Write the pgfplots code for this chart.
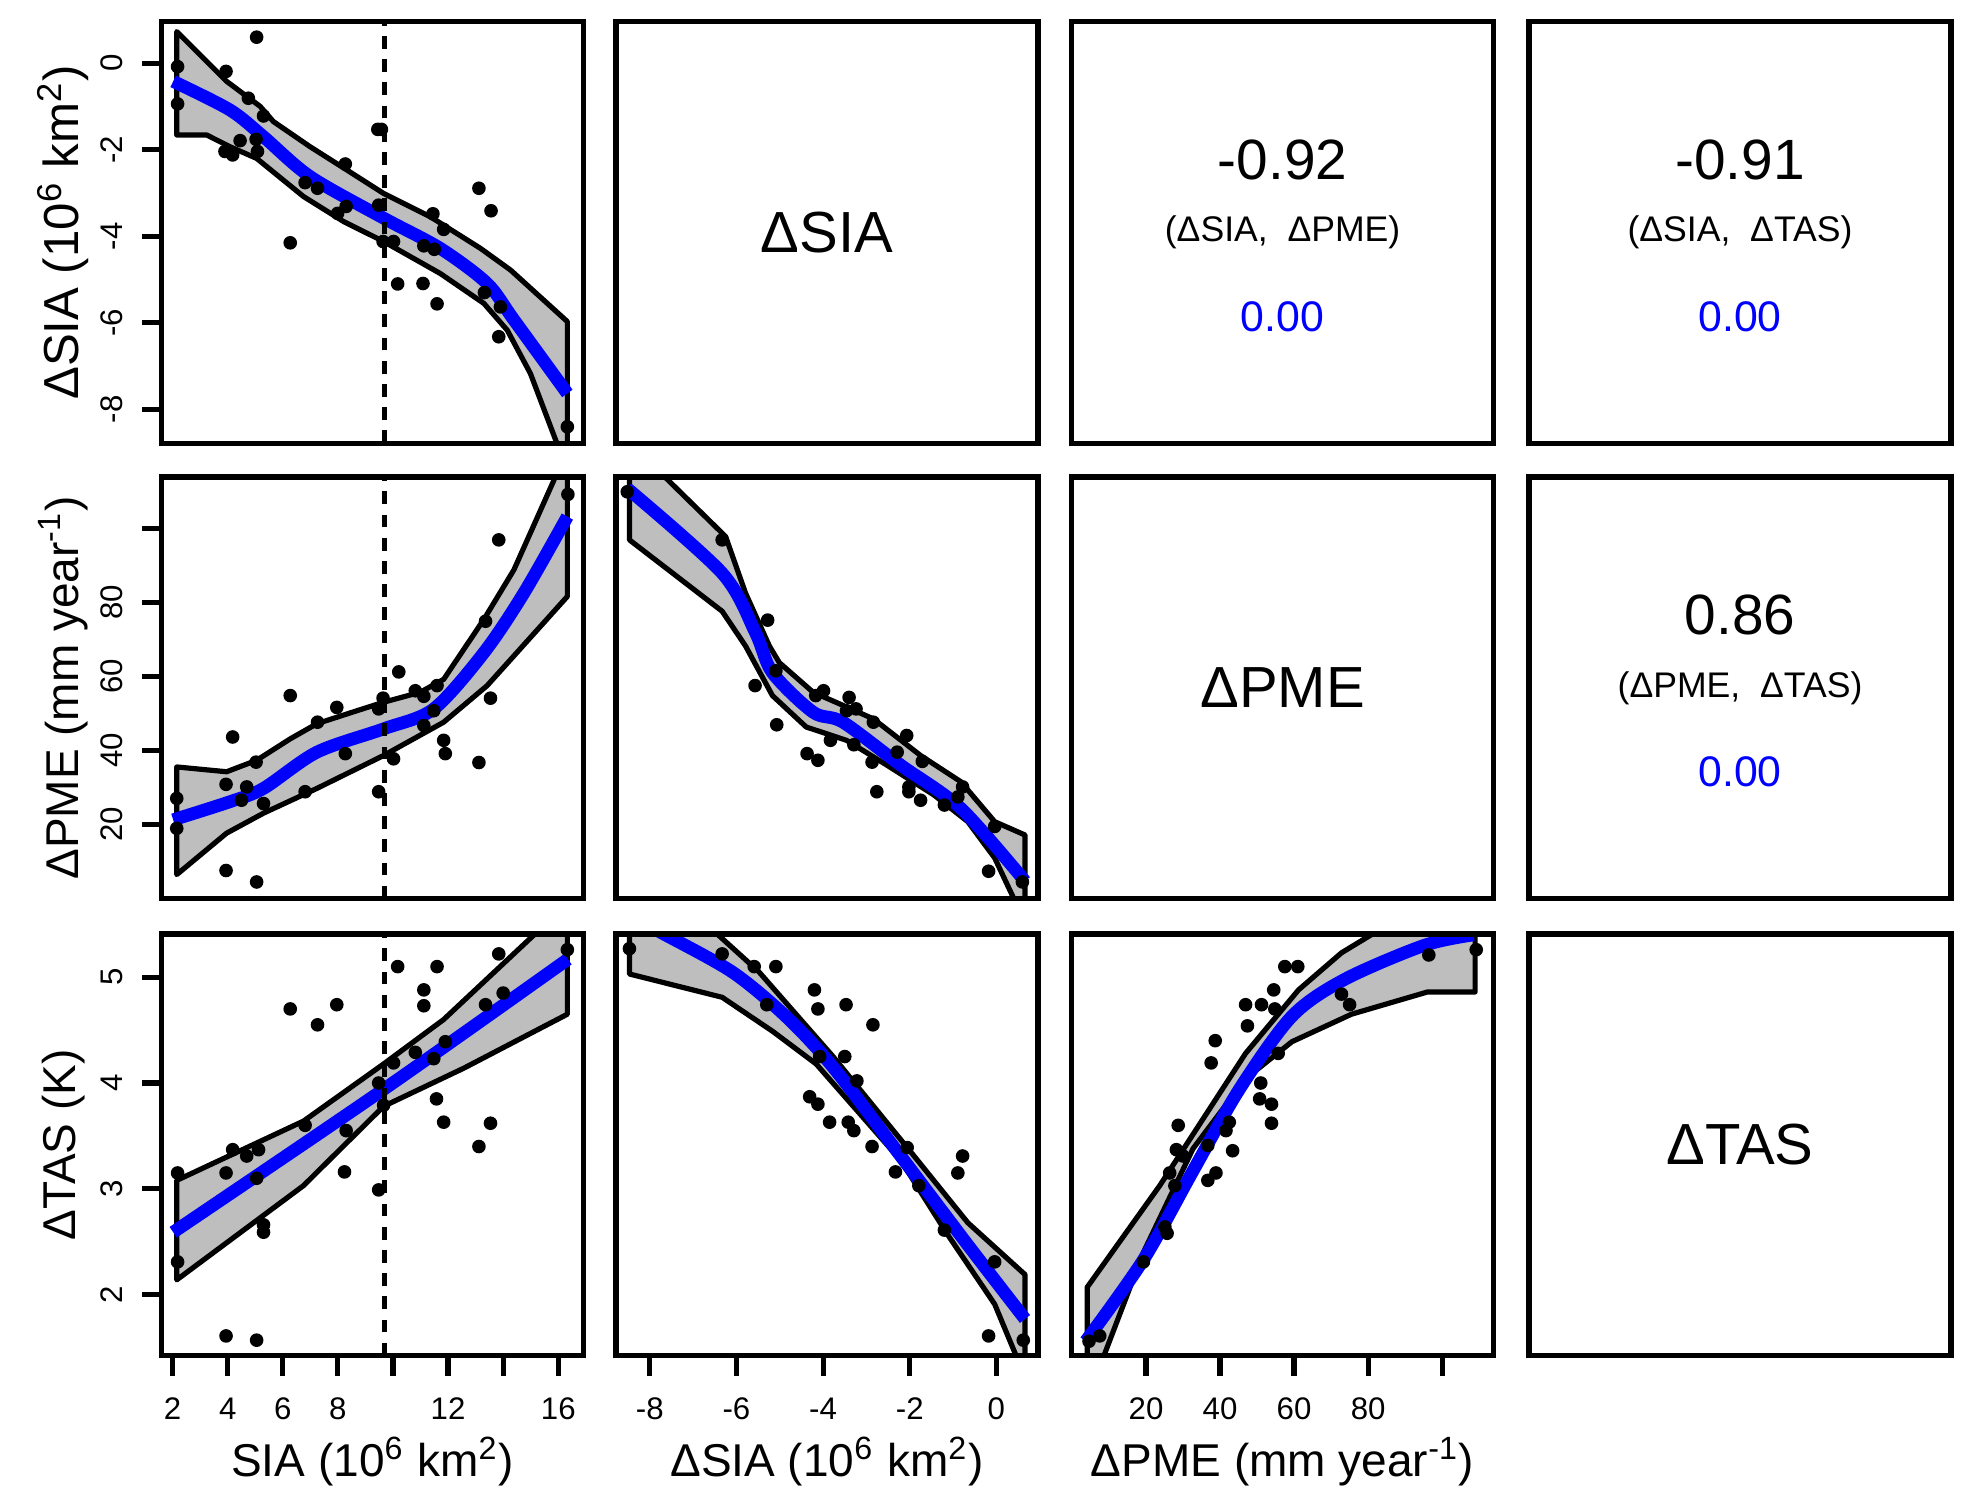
\documentclass[border=0pt]{standalone}
\usepackage{fontspec}
\setmainfont{Liberation Sans}
\usepackage{pgfplots}
\pgfplotsset{compat=1.18}
\definecolor{band}{RGB}{190,190,190}
\definecolor{fitblue}{RGB}{0,0,255}
\newcommand\tickf{\fontsize{7.8bp}{9bp}\selectfont}
\newcommand\labf{\fontsize{11.5bp}{13bp}\selectfont}
\newcommand\diagf{\fontsize{14.5bp}{17bp}\selectfont}
\newcommand\corf{\fontsize{14.2bp}{17bp}\selectfont}
\newcommand\pairf{\fontsize{8.9bp}{10bp}\selectfont}
\newcommand\pvf{\fontsize{10.7bp}{12bp}\selectfont}

\pgfplotsset{
  panel/.style={scale only axis, width=105.5bp, height=105.4bp, anchor=north west,
    axis line style={line width=1.3bp}, axis on top,
    xtick=\empty, ytick=\empty, tick pos=left, tick align=inside, major tick length=-5bp,
    major tick style={line width=1.3bp, black},
    ticklabel style={font=\tickf},
    xticklabel style={anchor=center, yshift=-13.25bp},
    yticklabel style={xshift=-12.45bp, rotate=90, anchor=center},
    xlabel style={font=\labf, at={(rel axis cs:0.5,0)}, anchor=center, yshift=-26.5bp},
    ylabel style={font=\labf, at={(rel axis cs:0,0.5)}, anchor=center, yshift=24.6bp},
  },
  pts/.style={only marks, mark=*, mark size=1.5bp, black},
  fit/.style={fitblue, line width=3.2bp, no marks, smooth, tension=0.5, line join=round},
  ci/.style={fill=band, draw=black, line width=1.3bp, no marks, line join=round},
  vline/.style={black, line width=1.2bp, dash pattern=on 3.2bp off 2.6bp, no marks},
  xsia/.style={xmin=1.6, xmax=16.92},
  xdsia/.style={xmin=-8.78, xmax=0.96},
  xdpme/.style={xmin=-0.1, xmax=113.9},
  ydsia/.style={ymin=-8.78, ymax=0.96},
  ydpme/.style={ymin=-0.1, ymax=113.9},
  ydtas/.style={ymin=1.424, ymax=5.408},
  blank/.style={xmin=0, xmax=1, ymin=0, ymax=1},
}

\begin{document}
\begin{tikzpicture}
\useasboundingbox (0,0) rectangle (492.5bp,-374.5bp);

% ---------------- row 1 ----------------
\begin{axis}[panel, xsia, ydsia, at={(40.4bp,-5.4bp)},
  ytick={0,-2,-4,-6,-8}, yticklabels={0,-2,-4,-6,-8},
  ylabel={\fontsize{12.3bp}{14bp}\selectfont ΔSIA (10\textsuperscript{6} km\textsuperscript{2})}]
\addplot[ci] coordinates {(2.15,0.73) (3.96,-0.42) (5.18,-1.00) (5.66,-1.35) (6.99,-1.93) (8.33,-2.47) (9.66,-3.01) (11.36,-3.55) (13.18,-4.28) (14.27,-4.78) (16.33,-5.97) (16.33,-9.4) (16.2,-9.2) (14.99,-7.17) (14.15,-6.17) (13.30,-5.55) (11.72,-4.86) (9.66,-4.12) (8.21,-3.66) (6.75,-3.08) (5.05,-2.20) (4.08,-1.93) (3.24,-1.66) (2.15,-1.66)} -- cycle;
\addplot[pts] coordinates {(2.18,-0.08) (2.18,-0.94) (5.05,0.60) (3.94,-0.19) (4.75,-0.81) (5.30,-1.22) (4.45,-1.79) (5.03,-1.76) (3.90,-2.04) (4.18,-2.12) (5.08,-2.04) (9.45,-1.53) (9.58,-1.53) (8.27,-2.33) (6.81,-2.76) (7.26,-2.89) (7.99,-3.47) (8.30,-3.31) (9.48,-3.28) (6.27,-4.15) (9.64,-4.12) (10.02,-4.12) (11.45,-3.48) (11.84,-3.84) (11.12,-4.22) (11.5,-4.3) (13.12,-2.89) (13.56,-3.41) (10.17,-5.10) (11.09,-5.09) (11.60,-5.56) (13.32,-5.30) (13.90,-5.63) (13.84,-6.32) (16.33,-8.40)};
\addplot[fit] coordinates {(2.02,-0.42) (4.08,-1.08) (5.30,-1.70) (6.99,-2.62) (9.66,-3.58) (11.72,-4.28) (13.42,-5.09) (14.39,-5.93) (16.33,-7.63)};
\addplot[vline] coordinates {(9.68,-8.78) (9.68,0.96)};
\end{axis}

\begin{axis}[panel, blank, at={(154.0bp,-5.4bp)}]
\node[font=\diagf] at (rel axis cs:0.5,0.5) {ΔSIA};
\end{axis}

\begin{axis}[panel, blank, at={(267.9bp,-5.4bp)}]
\node[font=\corf] at (rel axis cs:0.5,0.673) {-0.92};
\node[font=\pairf] at (rel axis cs:0.5,0.50) {(ΔSIA,\ \ ΔPME)};
\node[font=\pvf, text=fitblue] at (rel axis cs:0.5,0.30) {0.00};
\end{axis}

\begin{axis}[panel, blank, at={(382.25bp,-5.4bp)}]
\node[font=\corf] at (rel axis cs:0.5,0.673) {-0.91};
\node[font=\pairf] at (rel axis cs:0.5,0.50) {(ΔSIA,\ \ ΔTAS)};
\node[font=\pvf, text=fitblue] at (rel axis cs:0.5,0.30) {0.00};
\end{axis}

% ---------------- row 2 ----------------
\begin{axis}[panel, xsia, ydpme, at={(40.4bp,-119.25bp)},
  ytick={20,40,60,80,100}, yticklabels={20,40,60,80,{}},
  ylabel={ΔPME (mm year\textsuperscript{-1})}]
\addplot[ci] coordinates {(2.15,35.5) (3.96,34.2) (5.05,37.3) (6.27,43.1) (7.24,47.2) (8.69,50.7) (9.66,53.0) (10.99,55.7) (11.84,59.2) (13.30,75.4) (14.39,88.8) (15.84,113.0) (16.33,123.8) (16.33,81.6) (13.42,57.5) (11.84,47.6) (9.66,38.6) (7.24,29.7) (5.30,23.0) (3.96,17.6) (2.15,6.4)} -- cycle;
\addplot[pts] coordinates {(2.15,27.0) (2.15,18.9) (3.94,30.8) (4.18,43.6) (4.69,30.1) (5.03,36.8) (5.30,25.6) (3.94,7.5) (5.05,4.4) (4.5,26.5) (6.81,28.8) (6.27,54.8) (7.26,47.6) (7.96,51.6) (8.27,39.1) (9.48,28.8) (9.48,51.2) (9.64,54.1) (10.02,37.7) (10.21,61.2) (10.81,56.1) (11.12,54.6) (11.12,46.7) (11.60,57.5) (11.48,50.7) (11.84,42.7) (11.90,39.1) (13.12,36.7) (13.54,54.1) (13.36,74.9) (13.84,96.9) (16.35,109.2)};
\addplot[fit] coordinates {(2.02,21.2) (4.08,26.1) (5.30,29.7) (7.24,39.5) (9.66,45.8) (11.48,51.2) (13.30,66.4) (14.75,82.5) (16.33,103.2)};
\addplot[vline] coordinates {(9.68,-0.1) (9.68,113.9)};
\end{axis}

\begin{axis}[panel, xdsia, ydpme, at={(154.0bp,-119.25bp)}]
\addplot[ci] coordinates {(-8.47,123.3) (-6.25,97.8) (-5.79,82.5) (-5.24,68.2) (-5.01,63.7) (-4.23,55.7) (-3.61,52.5) (-2.84,48.5) (-1.75,38.6) (-0.82,31.5) (-0.04,20.7) (0.66,17.1) (0.66,-0.8) (0.43,-0.8) (-0.04,10.9) (-0.66,20.7) (-1.44,27.9) (-2.53,36.0) (-3.46,42.7) (-4.39,46.3) (-5.17,54.8) (-5.79,68.2) (-6.33,77.6) (-8.47,96.9)} -- cycle;
\addplot[pts] coordinates {(-8.52,109.9) (-6.33,96.9) (-5.28,75.2) (-5.57,57.5) (-5.09,61.5) (-5.07,46.9) (-4.17,54.8) (-3.99,56.1) (-3.40,54.3) (-3.46,50.7) (-3.24,51.2) (-2.84,47.6) (-3.83,42.7) (-4.37,39.1) (-4.12,37.3) (-3.29,41.5) (-2.87,36.8) (-2.76,28.8) (-2.29,39.5) (-2.07,44.0) (-1.71,37.0) (-2.02,30.1) (-2.02,28.8) (-1.75,26.5) (-1.20,25.2) (-0.78,30.1) (-0.89,27.4) (-0.04,19.4) (-0.18,7.3) (0.60,4.4)};
\addplot[fit] coordinates {(-8.52,110.8) (-6.33,87.9) (-5.56,71.8) (-5.17,61.0) (-4.23,50.3) (-3.54,47.6) (-2.21,36.0) (-0.82,24.3) (0.66,4.6)};
\end{axis}

\begin{axis}[panel, blank, at={(267.9bp,-119.25bp)}]
\node[font=\diagf] at (rel axis cs:0.5,0.5) {ΔPME};
\end{axis}

\begin{axis}[panel, blank, at={(382.25bp,-119.25bp)}]
\node[font=\corf] at (rel axis cs:0.5,0.673) {0.86};
\node[font=\pairf] at (rel axis cs:0.5,0.50) {(ΔPME,\ \ ΔTAS)};
\node[font=\pvf, text=fitblue] at (rel axis cs:0.5,0.30) {0.00};
\end{axis}

% ---------------- row 3 ----------------
\begin{axis}[panel, xsia, ydtas, at={(40.4bp,-233.5bp)},
  xtick={2,4,6,8,10,12,14,16}, xticklabels={2,4,6,8,{},12,{},16},
  ytick={2,3,4,5}, yticklabels={2,3,4,5},
  xlabel={SIA (10\textsuperscript{6} km\textsuperscript{2})},
  ylabel={ΔTAS (K)}]
\addplot[ci] coordinates {(2.15,3.08) (6.75,3.64) (9.66,4.18) (11.84,4.60) (15.12,5.40) (16.33,5.65) (16.33,4.65) (12.57,4.14) (9.66,3.78) (6.75,3.03) (2.15,2.14)} -- cycle;
\addplot[pts] coordinates {(2.18,3.15) (2.18,2.31) (3.94,3.15) (4.18,3.37) (4.69,3.31) (5.12,3.37) (5.05,3.10) (5.30,2.66) (5.30,2.59) (3.94,1.61) (5.05,1.57) (6.27,4.70) (7.26,4.55) (7.96,4.74) (6.81,3.60) (8.30,3.55) (8.24,3.16) (9.48,2.99) (9.48,4.00) (9.66,3.79) (10.02,4.19) (10.17,5.10) (10.81,4.29) (11.12,4.88) (11.12,4.73) (11.48,4.23) (11.60,5.10) (11.58,3.85) (11.84,3.63) (11.90,4.39) (13.12,3.40) (13.54,3.62) (13.36,4.74) (14.0,4.85) (13.84,5.22) (16.33,5.26)};
\addplot[fit] coordinates {(2.02,2.59) (9.66,3.94) (16.35,5.17)};
\addplot[vline] coordinates {(9.68,1.424) (9.68,5.408)};
\end{axis}

\begin{axis}[panel, xdsia, ydtas, at={(154.0bp,-233.5bp)},
  xtick={-8,-6,-4,-2,0}, xticklabels={-8,-6,-4,-2,0},
  xlabel={ΔSIA (10\textsuperscript{6} km\textsuperscript{2})}]
\addplot[ci] coordinates {(-8.47,6.15) (-6.45,5.41) (-5.48,5.05) (-3.77,4.25) (-1.90,3.31) (-0.66,2.68) (0.66,2.19) (0.66,1.30) (0.58,1.30) (-0.04,1.91) (-1.13,2.57) (-2.21,3.27) (-4.16,4.18) (-5.17,4.49) (-6.33,4.81) (-8.47,5.03)} -- cycle;
\addplot[pts] coordinates {(-8.47,5.27) (-6.33,5.22) (-5.59,5.10) (-5.09,5.10) (-4.20,4.88) (-4.12,4.70) (-3.47,4.74) (-2.85,4.55) (-3.50,4.25) (-4.08,4.25) (-4.31,3.87) (-4.12,3.80) (-3.85,3.63) (-3.42,3.63) (-3.29,3.55) (-2.87,3.40) (-2.33,3.16) (-1.79,3.03) (-0.78,3.31) (-0.89,3.15) (-1.20,2.61) (-0.04,2.31) (-0.18,1.61) (0.62,1.57) (-2.06,3.39) (-3.22,4.02) (-5.3,4.74)};
\addplot[fit] coordinates {(-8.47,5.58) (-7.73,5.42) (-6.10,5.05) (-4.86,4.63) (-3.77,4.15) (-2.21,3.31) (-0.66,2.47) (0.66,1.77)};
\end{axis}

\begin{axis}[panel, xdpme, ydtas, at={(267.9bp,-233.5bp)},
  xtick={20,40,60,80,100}, xticklabels={20,40,60,80,{}},
  xlabel={ΔPME (mm year\textsuperscript{-1})}]
\addplot[ci] coordinates {(4.1,2.07) (23.7,3.03) (46.9,4.28) (61.2,4.88) (72.8,5.23) (80.8,5.40) (108.9,5.75) (108.9,4.86) (96.0,4.86) (75.5,4.65) (59.4,4.39) (46.9,4.04) (32.7,3.38) (19.3,2.40) (8.6,1.42) (6.8,1.28) (4.1,1.28)} -- cycle;
\addplot[pts] coordinates {(4.6,1.56) (7.5,1.61) (19.3,2.31) (25.1,2.64) (25.7,2.58) (26.4,3.15) (28.7,3.60) (28.2,3.37) (30.0,3.31) (27.8,3.03) (36.7,3.08) (38.9,3.15) (36.7,3.41) (37.6,4.19) (38.7,4.40) (41.6,3.55) (42.5,3.63) (43.4,3.36) (46.9,4.74) (47.4,4.54) (51.2,4.74) (51.0,4.00) (50.7,3.85) (53.9,3.80) (53.9,3.62) (54.5,4.88) (54.8,4.70) (55.7,4.28) (57.5,5.10) (61.0,5.10) (72.8,4.84) (75.0,4.74) (96.4,5.21) (109.2,5.26)};
\addplot[fit] coordinates {(3.7,1.56) (19.3,2.33) (32.7,3.17) (45.2,3.94) (59.4,4.63) (73.7,4.98) (95.1,5.30) (108.5,5.40)};
\end{axis}

\begin{axis}[panel, blank, at={(382.25bp,-233.5bp)}]
\node[font=\diagf] at (rel axis cs:0.5,0.5) {ΔTAS};
\end{axis}

\end{tikzpicture}
\end{document}
